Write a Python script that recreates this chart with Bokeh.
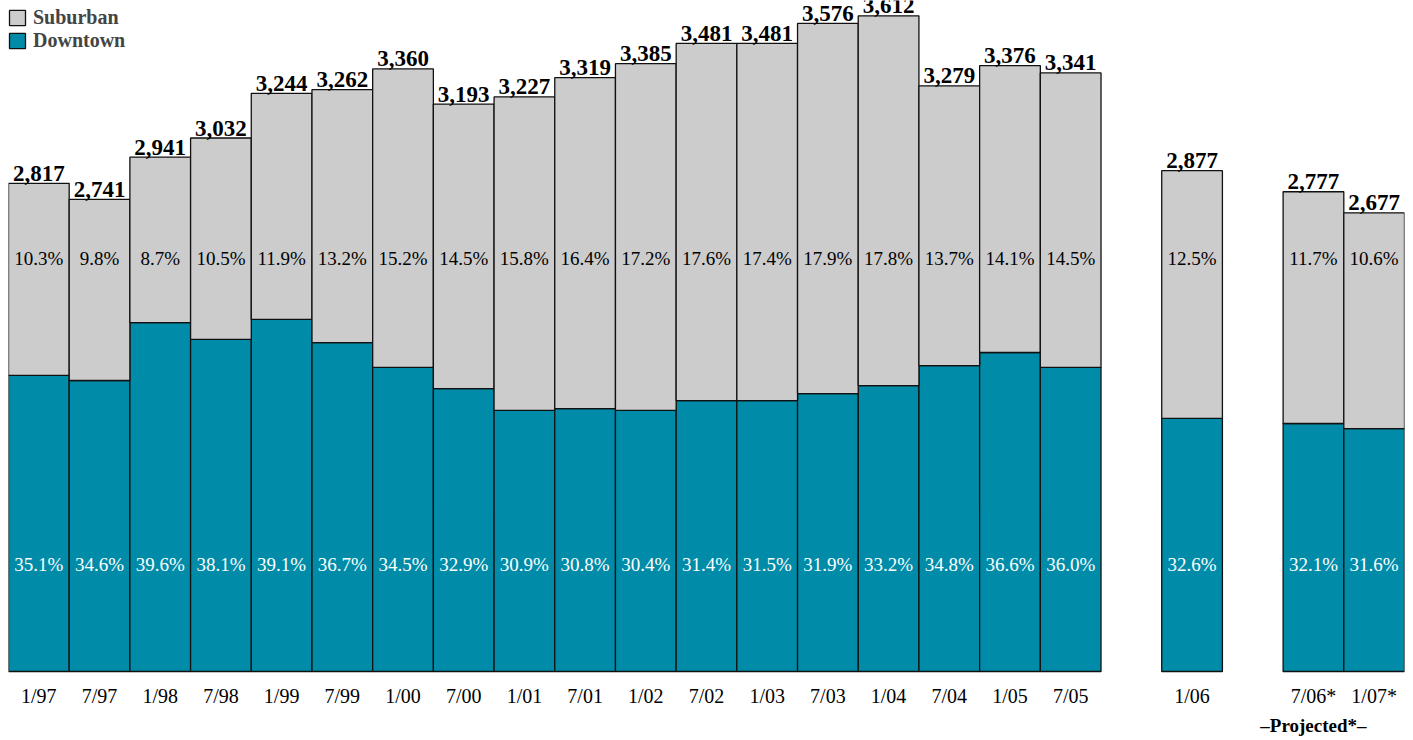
from bokeh.plotting import figure
from bokeh.models import FactorRange, Range1d, ColumnDataSource, Legend, LegendItem, CategoricalAxis
from bokeh.core.properties import value
from bokeh.embed import file_html
from bokeh.resources import INLINE

# ---- data ----
periods = ["1/97", "7/97", "1/98", "7/98", "1/99", "7/99", "1/00", "7/00", "1/01", "7/01",
           "1/02", "7/02", "1/03", "7/03", "1/04", "7/04", "1/05", "7/05", "1/06", "7/06*", "1/07*"]
totals = [2817, 2741, 2941, 3032, 3244, 3262, 3360, 3193, 3227, 3319,
          3385, 3481, 3481, 3576, 3612, 3279, 3376, 3341, 2877, 2777, 2677]
downtown = [1905, 1881, 2156, 2076, 2171, 2061, 1943, 1843, 1739, 1748,
            1739, 1786, 1786, 1819, 1857, 1952, 2014, 1943, 1701, 1677, 1653]
suburban_pct = ["10.3%", "9.8%", "8.7%", "10.5%", "11.9%", "13.2%", "15.2%", "14.5%", "15.8%", "16.4%",
                "17.2%", "17.6%", "17.4%", "17.9%", "17.8%", "13.7%", "14.1%", "14.5%", "12.5%", "11.7%", "10.6%"]
downtown_pct = ["35.1%", "34.6%", "39.6%", "38.1%", "39.1%", "36.7%", "34.5%", "32.9%", "30.9%", "30.8%",
                "30.4%", "31.4%", "31.5%", "31.9%", "33.2%", "34.8%", "36.6%", "36.0%", "32.6%", "32.1%", "31.6%"]
projected_note = "–Projected*–"

# ---- layout constants ----
BASE = 500
FONT = "Liberation Serif"
SUB_COLOR = "#cccccc"
DT_COLOR = "#008ca8"
SCALE = 0.2107  # px per unit
BASE_PX = 671   # pixel row of BASE
GAP_PX = 10     # gap between bar top and its value label

def yval(px):
    return BASE + (BASE_PX - px) / SCALE

factors = periods[:18] + [" "] + [periods[18]] + ["  "] + periods[19:]
# second (note) range: blank slots everywhere except under the 7/06* bar
note_factors = [projected_note if f == periods[19] else " " * (i + 1) for i, f in enumerate(factors)]

src = ColumnDataSource(dict(
    x=periods, total=totals, downtown=downtown,
    base=[BASE] * len(periods),
    label=[f"{v:,}" for v in totals],
    ly=[t + GAP_PX / SCALE for t in totals],
    sp=suburban_pct, dp=downtown_pct,
    sy=[yval(258)] * len(periods),
    dy=[yval(564)] * len(periods),
))

p = figure(width=1413, height=740, x_range=FactorRange(factors=factors, range_padding=0),
           y_range=Range1d(yval(673), yval(0)), output_backend="svg", toolbar_location=None,
           min_border_left=8, min_border_right=9, min_border_top=0, min_border_bottom=67)
p.extra_x_ranges = {"note": FactorRange(factors=note_factors, range_padding=0)}
p.outline_line_color = None
p.grid.visible = False
p.yaxis.visible = False
p.background_fill_color = "white"

dt = p.vbar(x="x", bottom="base", top="downtown", width=1.0, source=src,
            fill_color=DT_COLOR, line_color="#111111", line_width=1.3)
sb = p.vbar(x="x", bottom="downtown", top="total", width=1.0, source=src,
            fill_color=SUB_COLOR, line_color="#111111", line_width=1.3)

p.text(x="x", y="ly", text="label", source=src, text_align="center", text_baseline="alphabetic",
       text_font=value(FONT), text_font_style="bold", text_font_size="23px", text_color="black")
p.text(x="x", y="sy", text="sp", source=src, text_align="center", text_baseline="middle",
       text_font=value(FONT), text_font_size="19px", text_color="black")
p.text(x="x", y="dy", text="dp", source=src, text_align="center", text_baseline="middle",
       text_font=value(FONT), text_font_size="19px", text_color="white")

def style_axis(ax, standoff, size, bold=False):
    ax.axis_line_color = None
    ax.major_tick_line_color = None
    ax.minor_tick_line_color = None
    ax.major_tick_out = 0
    ax.major_tick_in = 0
    ax.major_label_standoff = standoff
    ax.major_label_text_font = FONT
    ax.major_label_text_font_size = size
    ax.major_label_text_color = "black"
    if bold:
        ax.major_label_text_font_style = "bold"

style_axis(p.xaxis[0], 11, "20px")

note_axis = CategoricalAxis(x_range_name="note")
style_axis(note_axis, 5, "19px", bold=True)
p.add_layout(note_axis, "below")

legend = Legend(items=[LegendItem(label="Suburban", renderers=[sb]),
                       LegendItem(label="Downtown", renderers=[dt])],
                location=(-1, 621), orientation="vertical")
legend.margin = 0
legend.padding = 0
legend.spacing = 0
legend.glyph_width = 20
legend.glyph_height = 19
legend.label_height = 19
legend.label_standoff = 6
legend.label_text_font = FONT
legend.label_text_font_style = "bold"
legend.label_text_font_size = "20px"
legend.background_fill_alpha = 0
legend.border_line_alpha = 0
p.add_layout(legend)

open("out.html", "w").write(file_html(p, INLINE))
